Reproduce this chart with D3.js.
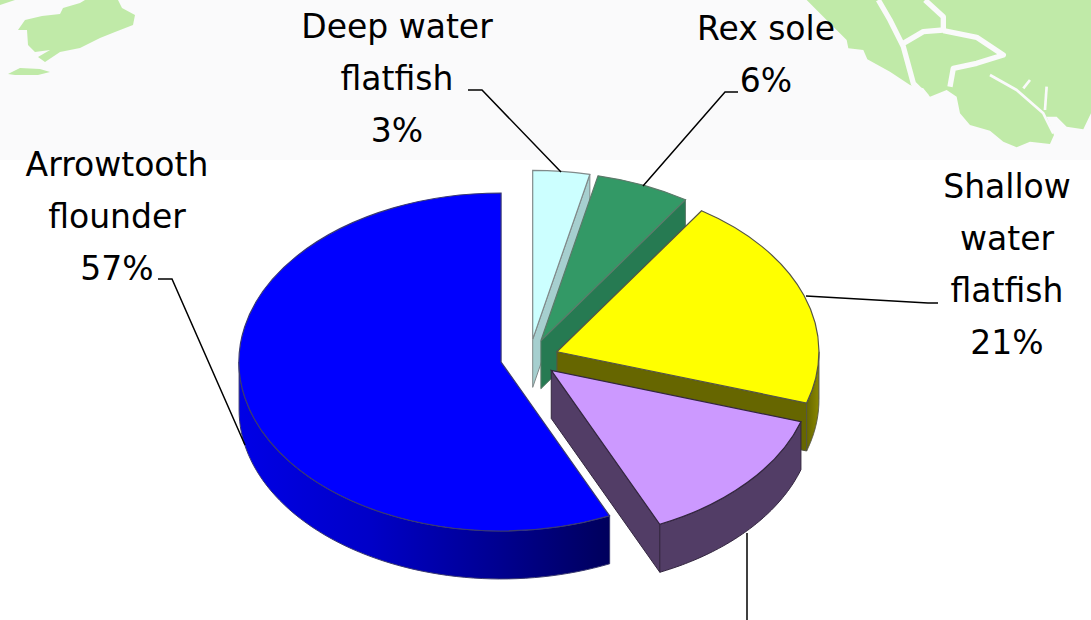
<!DOCTYPE html>
<html><head><meta charset="utf-8">
<script src="https://cdn.jsdelivr.net/npm/d3@7"></script>
<style>html,body{margin:0;padding:0;background:#fff;overflow:hidden}svg{display:block}
text{font-family:"Comic Sans MS","DejaVu Sans",sans-serif;fill:#000;text-anchor:middle}</style>
</head><body><svg id="c" width="1091" height="620"></svg>
<script>
// --- data, clockwise from 12 o'clock ---
const categories = ["Deep water flatfish","Rex sole","Shallow water flatfish","Other flatfish","Arrowtooth flounder"];
const values = [3.5,5.8,20.6,13.3,56.8];
const percentLabels = ["3%","6%","21%",null,"57%"];
const topColors = ["#ccffff","#339966","#ffff00","#cc99ff","#0000ff"];
const wallColors = ["#a6cfcf","#267a52","#666600","#523d66","url(#blueWall)"];
const arcColors = ["#a6cfcf","#267a52","url(#oliveWall)","#523d66","url(#blueWall)"];
const edgeColors = ["#808a8a","#5c7a6a","#555544","#33263f","#3a3a70"];
const drawOrder = [0,1,2,4,3];

// --- layout ---
const W=1091,H=620, cx=529.5, cy=358, rx=262, ry=169, depth=48, explode=0.111;
const svg=d3.select("#c");
const defs=svg.append("defs");
function grad(id,stops){const g=defs.append("linearGradient").attr("id",id).attr("x1",0).attr("x2",1).attr("y1",0).attr("y2",0);
 stops.forEach(s=>g.append("stop").attr("offset",s[0]).attr("stop-color",s[1]));}
grad("blueWall",[[0,"#0000e6"],[0.35,"#0000c8"],[0.7,"#000090"],[1,"#00005c"]]);
grad("oliveWall",[[0,"#666600"],[1,"#8a8800"]]);

// --- background map strip ---
const bg=svg.append("g");
bg.append("rect").attr("width",W).attr("height",H).attr("fill","#fff");
bg.append("rect").attr("width",W).attr("height",160).attr("fill","#fafafb");
const landFill="#c0eaa8", stripFill="#fafafb";
const landLeft=[
 "M18,30L25,20L42,16L60,14L63,8L80,3L85,0L118,0L122,8L135,15L133,25L115,32L100,38L80,48L70,50L60,52L45,62L38,57L50,50L35,52L28,45L27,30Z",
 "M8,74L20,68L40,69L50,72L38,75L15,75Z","M0,0L15,0L0,5Z"];
landLeft.forEach(d=>bg.append("path").attr("d",d).attr("fill",landFill));
const rightLand=bg.append("g").attr("transform","translate(790,0) scale(0.3333)");
rightLand.append("path").attr("fill",landFill).attr("d",
 "M50,0L100,50L170,120L175,145L220,150L232,178L300,215L360,255L400,265L420,290L470,270L500,290L510,340L540,375L600,392L640,425L680,442L720,425L780,432L792,405L770,350L800,350L830,380L880,388L903,340L903,0Z");
const channels=[
 "M265,0L300,60L340,140L370,250L410,290",
 "M340,130L400,95L460,90L460,50L405,0",
 "M460,92L560,112L640,165L560,190L490,205L480,260",
 "M600,225L680,270L760,340L790,400",
 "M700,265L720,240","M765,330L770,260"];
channels.forEach((d,i)=>rightLand.append("path").attr("d",d).attr("fill","none").attr("stroke",stripFill)
 .attr("stroke-width",i<3?16:8).attr("stroke-linejoin","round"));

// --- pie ---
const pie=d3.pie().sort(null).value(d=>d)(values);
const arcGen=d3.arc().innerRadius(0).outerRadius(1);
const line=d3.line();
const px=d3.scaleLinear().domain([-1,1]).range([-rx,rx]);
const py=d3.scaleLinear().domain([-1,1]).range([-ry,ry]);
const onEllipse=(a,o)=>[o[0]+px(Math.sin(a)),o[1]+py(-Math.cos(a))];

const g=svg.append("g");
drawOrder.forEach(i=>{
 const s=pie[i], mid=(s.startAngle+s.endAngle)/2;
 const o=[cx+px(explode*Math.sin(mid)), cy+py(-explode*Math.cos(mid))];
 const slice=g.append("g");
 const wall=(a,fill)=>{const p=onEllipse(a,o);
  slice.append("path").attr("d",line([o,p,[p[0],p[1]+depth],[o[0],o[1]+depth]])+"Z")
   .attr("fill",fill).attr("stroke",edgeColors[i]).attr("stroke-width",1).attr("stroke-linejoin","round");};
 if(Math.sin(s.endAngle)>1e-6) wall(s.endAngle,wallColors[i]);
 if(Math.sin(s.startAngle)<-1e-6) wall(s.startAngle,wallColors[i]);
 const a0=Math.max(s.startAngle,Math.PI/2), a1=Math.min(s.endAngle,3*Math.PI/2);
 if(a1>a0){
  const n=60, ts=d3.range(n+1).map(k=>a0+(a1-a0)*k/n);
  const top=ts.map(t=>onEllipse(t,o));
  const bot=top.slice().reverse().map(p=>[p[0],p[1]+depth]);
  slice.append("path").attr("d",line(top.concat(bot))+"Z").attr("fill",arcColors[i])
   .attr("stroke",edgeColors[i]).attr("stroke-width",1).attr("stroke-linejoin","round");
 }
 slice.append("path").attr("d",arcGen(s))
  .attr("transform",`translate(${o[0]},${o[1]}) scale(${rx},${ry})`)
  .attr("fill",topColors[i]).attr("stroke",edgeColors[i]).attr("stroke-width",1.2)
  .attr("vector-effect","non-scaling-stroke").style("vector-effect","non-scaling-stroke");
});

// --- leaders ---
const leaders=[
 [[468,90],[482,90],[561,172]],
 [[738,92],[725,92],[643,186]],
 [[806,296],[928,303],[938,303]],
 [[747,533],[747,620]],
 [[158,279],[172,279],[245,445]]];
leaders.forEach(l=>svg.append("path").attr("d",line(l)).attr("fill","none").attr("stroke","#000").attr("stroke-width",1.5));

// --- labels ---
const labelLines=[["Deep water","flatfish"],["Rex sole"],["Shallow","water","flatfish"],null,["Arrowtooth","flounder"]];
const labelPos=[[397,38],[766,40],[1007,198],null,[117,176]];
const lh=52;
const fs=33;
labelLines.forEach((ls,i)=>{ if(!ls) return;
 ls.concat(percentLabels[i]).forEach((t,k)=>{
  svg.append("text").attr("x",labelPos[i][0]).attr("y",labelPos[i][1]+k*lh).attr("font-size",fs).text(t);
 });
});
</script></body></html>
